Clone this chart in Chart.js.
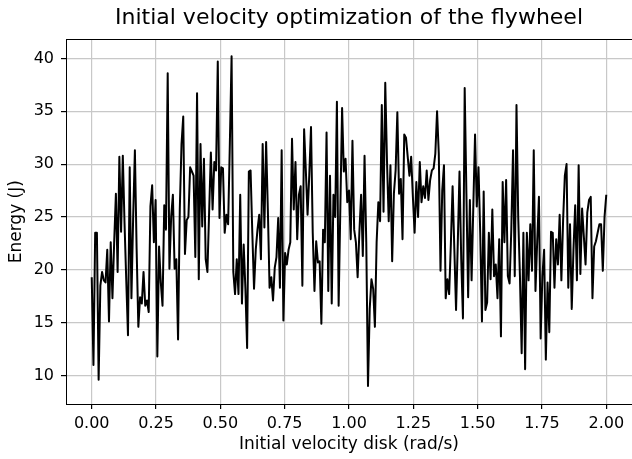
<!DOCTYPE html>
<html>
<head>
<meta charset="utf-8">
<script src="https://cdn.jsdelivr.net/npm/chart.js@4/dist/chart.umd.min.js"></script>
<style>
  html, body { margin: 0; padding: 0; background: #fff; }
  #wrap { width: 632px; height: 459px; }
</style>
</head>
<body>
<div id="wrap"><canvas id="lineChart"></canvas></div>
<script>
// Energy, left to right (evenly spaced samples)
const energy = [
  19.3, 11.0, 23.5, 23.5, 9.6, 18.5, 19.8, 19.0, 18.8, 21.9, 15.1, 22.6, 17.3, 22.6, 27.2, 19.8, 30.7, 23.6, 30.8, 24.4,
  19.0, 13.8, 29.7, 17.3, 25.0, 31.3, 22.0, 14.6, 17.4, 16.8, 19.8, 16.6, 17.1, 16.0, 26.0, 28.0, 22.6, 26.6, 11.8, 22.2,
  18.8, 16.6, 26.1, 23.8, 38.6, 20.1, 25.0, 27.1, 20.1, 21.0, 13.4, 25.7, 31.9, 34.5, 21.5, 24.7, 25.0, 29.7, 29.3, 28.9,
  21.2, 36.7, 19.1, 31.9, 24.1, 30.5, 21.0, 19.8, 25.5, 31.1, 25.7, 30.2, 29.4, 39.7,
  24.9, 29.7, 29.6, 23.5, 25.2, 24.3, 32.0, 40.2, 19.8, 17.7, 21.0, 17.7, 27.1, 16.8, 22.4, 18.2, 12.6, 29.3, 29.4, 23.5,
  18.2, 21.9, 23.8, 25.2, 21.0, 31.9, 24.0, 32.1, 25.7, 18.3, 19.3, 17.1, 20.2, 21.2, 24.9, 18.3, 31.3, 15.2, 21.6, 20.5,
  21.9, 22.6, 32.4, 25.7, 30.2, 22.9, 27.1, 27.9, 18.5, 33.3, 29.4, 25.2, 29.0, 33.5, 23.5, 18.0, 22.7, 20.7, 20.8, 14.9,
  23.8, 22.6, 33.0, 18.0, 28.9, 16.8, 27.1, 25.0, 35.9, 16.6, 26.0, 35.3, 29.3,
  30.5, 26.4, 27.5, 22.9, 32.2, 23.8, 22.6, 19.3, 23.5, 27.1, 21.3, 30.8, 22.6, 9.0, 16.3, 19.1, 18.2, 14.6, 22.6, 26.4,
  24.6, 35.6, 25.5, 37.7, 30.3, 24.6, 29.9, 20.8, 27.2, 29.4, 34.9, 27.2, 28.6, 22.9, 32.8, 32.5, 30.7, 28.9, 30.7, 26.9,
  23.5, 28.3, 25.0, 30.2, 26.4, 27.9, 26.8, 29.4, 26.6, 28.5, 29.4, 29.6, 31.0, 35.0, 31.0, 19.9, 27.5, 29.9, 17.3, 19.1,
  17.7, 22.5, 27.9, 22.0, 16.2, 22.5, 29.3, 21.0, 15.4, 37.2, 27.2, 17.4, 26.6, 19.0,
  26.0, 32.8, 26.0, 29.7, 23.5, 15.1, 27.4, 16.2, 16.9, 23.5, 19.1, 25.7, 19.4, 20.5, 17.3, 22.9, 13.7, 28.3, 22.6, 28.5,
  19.4, 18.7, 23.8, 31.3, 19.4, 35.6, 25.0, 19.4, 12.1, 23.5, 10.6, 23.5, 19.0, 24.3, 19.9, 31.3, 18.0, 22.7, 26.9, 13.5,
  19.4, 21.9, 11.5, 18.8, 14.1, 23.6, 23.5, 18.3, 22.9, 20.5, 25.2, 19.0, 24.7, 28.9, 30.0, 18.3, 24.3, 16.3, 21.9, 26.1,
  19.0, 29.9, 19.6, 25.8, 23.2, 20.5, 25.4, 26.6, 26.9, 17.3, 22.2, 22.7, 23.5, 24.3, 24.3, 19.9, 25.0, 27.1
];
const velocityStart = 0;
const velocityEnd = 2;
const xTickValues = [0, 0.25, 0.5, 0.75, 1.0, 1.25, 1.5, 1.75, 2.0];
const yTickValues = [10, 15, 20, 25, 30, 35, 40];

// samples are evenly spaced between start and end
const velocity = energy.map((_, i) => velocityStart + i * (velocityEnd - velocityStart) / (energy.length - 1));
const points = energy.map((e, i) => ({ x: velocity[i], y: e }));

const tickFont = { family: 'DejaVu Sans', size: 16 };
const labelFont = { family: 'DejaVu Sans', size: 17 };

// draw the full box around the plot, like matplotlib spines
const frame = {
    id: 'frame',
    afterDatasetsDraw(chart) {
        const { ctx, chartArea: a } = chart;
        ctx.save();
        ctx.strokeStyle = '#000';
        ctx.lineWidth = 1;
        ctx.strokeRect(Math.round(a.left) + 0.5, Math.round(a.top) + 0.5,
            Math.round(a.right - a.left), Math.round(a.bottom - a.top));
        ctx.restore();
    }
};

const lineChart = new Chart(document.getElementById('lineChart'), {
    type: 'line',
    data: {
        datasets: [{
            data: points,
            borderColor: '#000',
            borderWidth: 2,
            borderJoinStyle: 'round',
            pointRadius: 0,
            tension: 0,
            fill: false
        }]
    },
    options: {
        responsive: true,
        maintainAspectRatio: false,
        animation: false,
        layout: { padding: { left: 0, right: -2, top: 0, bottom: 0 } },
        plugins: {
            legend: { display: false },
            tooltip: { enabled: false },
            title: {
                display: true,
                fullSize: false,
                text: 'Initial velocity optimization of the flywheel',
                color: '#000',
                font: { family: 'DejaVu Sans', size: 22, weight: 'normal' },
                padding: { top: 5, bottom: 8 }
            }
        },
        scales: {
            x: {
                type: 'linear',
                min: -0.1,
                max: 2.1,
                afterFit(scale) { scale.height = 55; },
                afterBuildTicks(scale) { scale.ticks = xTickValues.map(v => ({ value: v })); },
                ticks: {
                    color: '#000',
                    font: tickFont,
                    padding: 5,
                    maxRotation: 0,
                    autoSkip: false,
                    callback: v => v.toFixed(2)
                },
                grid: { color: '#c8c8c8', lineWidth: 1.2, tickColor: '#000', tickLength: 5 },
                border: { display: false },
                title: {
                    display: true,
                    text: 'Initial velocity disk (rad/s)',
                    color: '#000',
                    font: labelFont,
                    padding: { top: 0, bottom: 4 }
                }
            },
            y: {
                min: 7.3,
                max: 41.8,
                afterFit(scale) { scale.width = 66; },
                afterBuildTicks(scale) { scale.ticks = yTickValues.map(v => ({ value: v })); },
                ticks: { color: '#000', font: tickFont, padding: 7 },
                grid: { color: '#c8c8c8', lineWidth: 1.2, tickColor: '#000', tickLength: 5 },
                border: { display: false },
                title: {
                    display: true,
                    text: 'Energy (J)',
                    color: '#000',
                    font: labelFont,
                    padding: 6
                }
            }
        }
    },
    plugins: [frame]
});
</script>
</body>
</html>
